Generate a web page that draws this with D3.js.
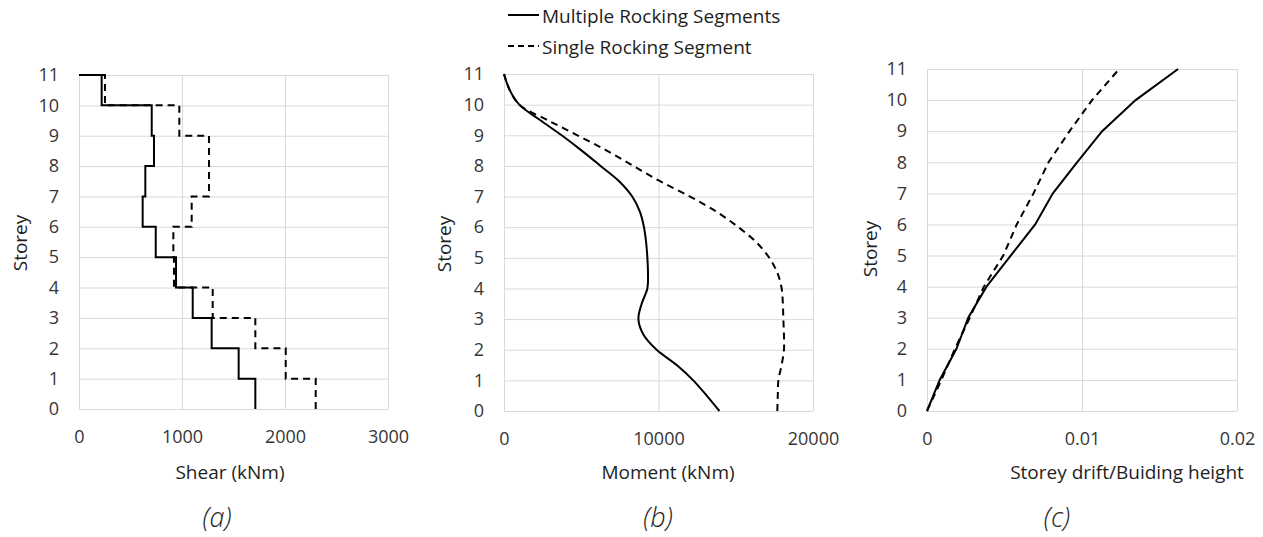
<!DOCTYPE html>
<html>
<head>
<meta charset="utf-8">
<script src="https://cdn.jsdelivr.net/npm/d3@7"></script>
<style>
  body { margin: 0; background: #fff; }
  svg { font-family: "Open Sans", "Noto Sans", sans-serif; }
</style>
</head>
<body>
<div id="chart"></div>
<script>
const storeys = [0, 1, 2, 3, 4, 5, 6, 7, 8, 9, 10, 11];

// (a) shear per storey segment [i, i+1], last entry closes the step at storey 11
const shearMultiple = [1712, 1550, 1288, 1104, 942, 745, 618, 644, 728, 706, 220, 0];
const shearSingle = [2298, 2007, 1712, 1298, 922, 916, 1094, 1262, 1262, 974, 252, 0];

// (b) moment read at half-storey levels
const momentLevels = [0, 0.5, 1, 1.5, 2, 2.5, 3, 3.5, 4, 4.5, 5, 5.5, 6, 6.5, 7, 7.5, 8, 8.5, 9, 9.5, 10, 10.5, 11];
const momentMultiple = [13940, 13120, 12250, 11180, 9880, 9020, 8700, 8910, 9280, 9320, 9280, 9200, 9060, 8800, 8300, 7450, 6250, 5030, 3730, 2330, 990, 350, 0];
const momentSingle = [17690, 17720, 17760, 17970, 18120, 18120, 18080, 18050, 17970, 17700, 17170, 16350, 15170, 13770, 12040, 10100, 8370, 6650, 4750, 2800, 990, 350, 0];

// (c) drift ratio per storey
const driftMultiple = [0, 0.00082, 0.0019, 0.00266, 0.00384, 0.0054, 0.00698, 0.00812, 0.00968, 0.0113, 0.01346, 0.0162];
const driftSingle = [0, 0.00093, 0.0018, 0.00276, 0.00367, 0.00492, 0.00579, 0.00687, 0.00784, 0.0092, 0.01065, 0.0124];

const seriesNames = ['Multiple Rocking Segments', 'Single Rocking Segment'];
const shearTicks = [0, 1000, 2000, 3000];
const momentTicks = [0, 10000, 20000];
const driftTicks = [0, 0.01, 0.02];

const dash = '7,5';
const gridColor = '#d9d9d9';
const tickColor = '#363636';
const titleColor = '#1e1e1e';

const svg = d3.select('#chart')
  .append('svg')
  .attr('width', 1263)
  .attr('height', 537);

const panels = [
  { left: 79, right: 388, top: 75, bottom: 409, domain: [0, 3000], ticks: shearTicks,
    title: 'Shear (kNm)', titleX: 230, label: '(a)', labelX: 217, storeyX: 20, storeyY: 243,
    levels: [storeys, storeys], values: [shearMultiple, shearSingle], curve: d3.curveStepBefore },
  { left: 504, right: 813, top: 74, bottom: 411, domain: [0, 20000], ticks: momentTicks,
    title: 'Moment (kNm)', titleX: 668, label: '(b)', labelX: 658, storeyX: 444, storeyY: 244,
    levels: [momentLevels, momentLevels], values: [momentMultiple, momentSingle], curve: d3.curveCatmullRom.alpha(0.5) },
  { left: 927, right: 1237, top: 69, bottom: 411, domain: [0, 0.02], ticks: driftTicks,
    title: 'Storey drift/Buiding height', titleX: 1127, label: '(c)', labelX: 1057, storeyX: 870, storeyY: 249,
    levels: [storeys, storeys], values: [driftMultiple, driftSingle], curve: d3.curveLinear }
];

panels.forEach(p => {
  const w = p.right - p.left;
  const h = p.bottom - p.top;
  const g = svg.append('g').attr('transform', 'translate(' + p.left + ',' + p.top + ')');

  const x = d3.scaleLinear().domain(p.domain).range([0, w]);
  const y = d3.scaleLinear().domain([0, 11]).range([h, 0]);

  /* grid + tick labels */
  const xAxis = g.append('g')
    .attr('transform', 'translate(0,' + h + ')')
    .call(d3.axisBottom(x).tickValues(p.ticks).tickSize(-h).tickPadding(21).tickFormat(d => String(d)));
  const yAxis = g.append('g')
    .call(d3.axisLeft(y).tickValues(storeys).tickSize(-w).tickPadding(20).tickFormat(d => String(d)));

  [xAxis, yAxis].forEach(a => {
    a.select('.domain').remove();
    a.selectAll('line').attr('stroke', gridColor).attr('stroke-width', 1);
    a.selectAll('text')
      .attr('fill', tickColor)
      .style('font-size', '18px')
      .style('font-family', '"Open Sans", sans-serif');
  });

  /* series */
  const line = d3.line()
    .x(d => x(d[0]))
    .y(d => y(d[1]))
    .curve(p.curve);

  p.values.forEach((vals, i) => {
    const pts = vals.map((v, j) => [v, p.levels[i][j]]);
    g.append('path')
      .datum(pts)
      .attr('fill', 'none')
      .attr('stroke', '#000')
      .attr('stroke-width', 2)
      .attr('stroke-dasharray', i === 1 ? dash : null)
      .attr('d', line);
  });

  /* titles */
  svg.append('text')
    .attr('x', p.titleX)
    .attr('y', 479)
    .attr('text-anchor', 'middle')
    .attr('fill', titleColor)
    .style('font-size', '19px')
    .text(p.title);

  svg.append('text')
    .attr('x', p.labelX)
    .attr('y', 527)
    .attr('text-anchor', 'middle')
    .attr('fill', titleColor)
    .style('font-size', '27px')
    .style('font-style', 'italic')
    .style('font-weight', 300)
    .text(p.label);

  svg.append('text')
    .attr('transform', 'translate(' + p.storeyX + ',' + p.storeyY + ') rotate(-90)')
    .attr('text-anchor', 'middle')
    .attr('dominant-baseline', 'central')
    .attr('fill', titleColor)
    .style('font-size', '19px')
    .text('Storey');
});

/* legend */
const legend = svg.append('g');
seriesNames.forEach((name, i) => {
  const ly = 15 + i * 31;
  legend.append('line')
    .attr('x1', 508).attr('x2', 539)
    .attr('y1', ly).attr('y2', ly)
    .attr('stroke', '#000')
    .attr('stroke-width', 2)
    .attr('stroke-dasharray', i === 1 ? '6,4' : null);
  legend.append('text')
    .attr('x', 542)
    .attr('y', ly + 8)
    .attr('fill', titleColor)
    .style('font-size', '19px')
    .text(name);
});
</script>
</body>
</html>
